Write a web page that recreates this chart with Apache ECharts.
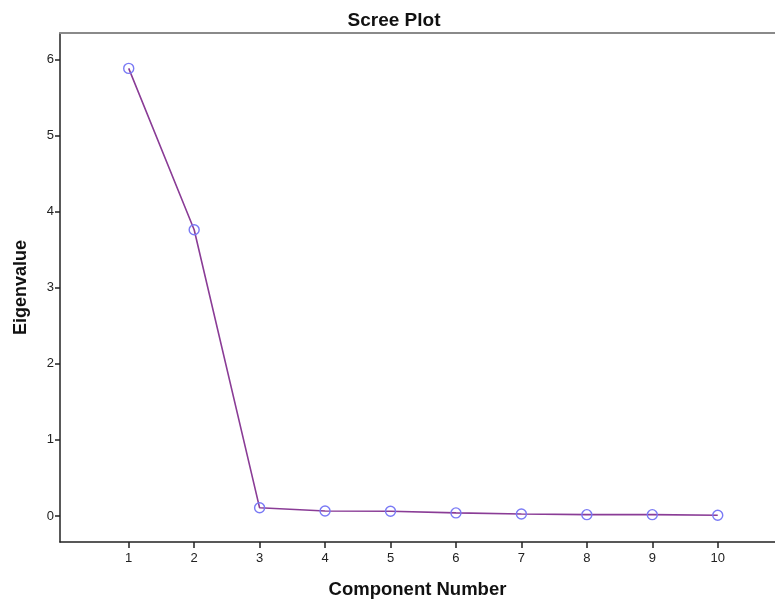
<!DOCTYPE html>
<html>
<head>
<meta charset="utf-8">
<script src="https://cdn.jsdelivr.net/npm/echarts@6/dist/echarts.min.js"></script>
<style>html,body{margin:0;padding:0;background:#fff}#c{width:775px;height:599px}</style>
</head>
<body>
<div id="c"></div>
<script>
var components = [1, 2, 3, 4, 5, 6, 7, 8, 9, 10];
var eigenvalues = [5.88, 3.76, 0.107, 0.066, 0.062, 0.040, 0.026, 0.017, 0.017, 0.009];
var yTicks = [0, 1, 2, 3, 4, 5, 6];
var xTicks = components;

var chart = echarts.init(document.getElementById('c'), null, {renderer: 'canvas'});
var fontFam = '"Liberation Sans", Arial, sans-serif';
chart.setOption({
  animation: false,
  backgroundColor: '#ffffff',
  title: {
    text: 'Scree Plot', left: 389, top: 6, textAlign: 'center',
    textStyle: {fontFamily: fontFam, fontSize: 19, fontWeight: 'bold', color: '#111'}
  },
  grid: {left: 60, top: 33, right: 0, bottom: 57, containLabel: false, outerBoundsMode: 'none'},
  xAxis: [{
    type: 'value', min: -0.05, max: 10.875,
    name: 'Component Number', nameLocation: 'middle', nameGap: 38,
    nameTextStyle: {fontFamily: fontFam, fontSize: 18.5, fontWeight: 'bold', color: '#111'},
    axisLine: {show: true, onZero: false, lineStyle: {color: '#222', width: 1.5}},
    axisTick: {show: true, length: 6, customValues: xTicks, lineStyle: {color: '#222', width: 1.5}},
    axisLabel: {customValues: xTicks, fontFamily: fontFam, fontSize: 13, color: '#222', margin: 10},
    splitLine: {show: false}
  }, {
    type: 'value', position: 'top', min: -0.05, max: 10.875,
    axisLine: {show: true, onZero: false, lineStyle: {color: '#8a8a8a', width: 2}},
    axisTick: {show: false}, axisLabel: {show: false}, splitLine: {show: false}
  }],
  yAxis: {
    type: 'value', min: -0.342, max: 6.345,
    name: 'Eigenvalue', nameLocation: 'middle', nameGap: 30, nameRotate: 90,
    nameTextStyle: {fontFamily: fontFam, fontSize: 18, fontWeight: 'bold', color: '#111'},
    axisLine: {show: true, onZero: false, lineStyle: {color: '#222', width: 1.5}},
    axisTick: {show: true, length: 5, customValues: yTicks, lineStyle: {color: '#222', width: 1.5}},
    axisLabel: {customValues: yTicks, fontFamily: fontFam, fontSize: 13, color: '#222', margin: 6},
    splitLine: {show: false}
  },
  series: [{
    type: 'line',
    data: components.map(function (c, i) { return [c, eigenvalues[i]]; }),
    symbol: 'circle', symbolSize: 10, showAllSymbol: true,
    lineStyle: {color: '#8a3c96', width: 1.6},
    itemStyle: {color: 'rgba(255,255,255,0)', borderColor: '#7a7af5', borderWidth: 1.4},
    z: 3
  }]
});
</script>
</body>
</html>
